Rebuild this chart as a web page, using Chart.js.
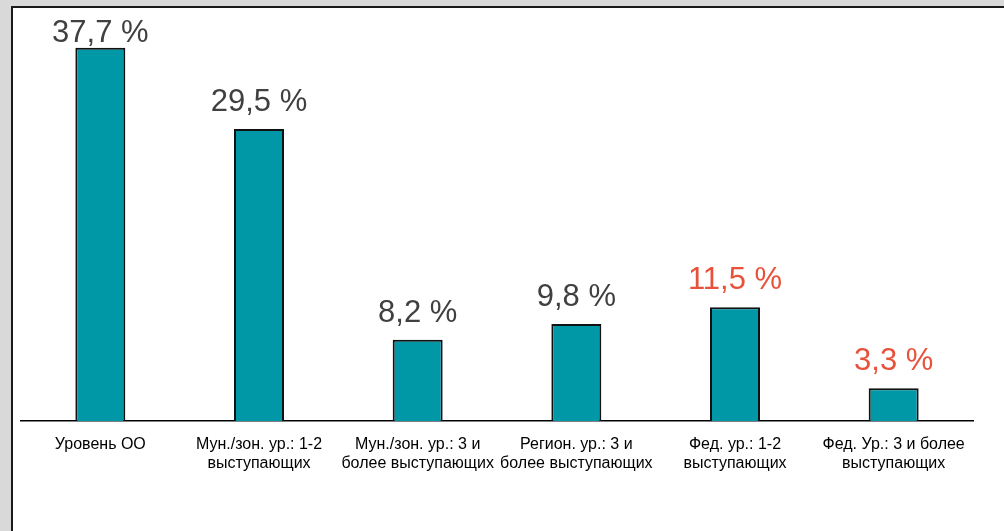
<!DOCTYPE html>
<html>
<head>
<meta charset="utf-8">
<script src="https://cdn.jsdelivr.net/npm/chart.js@4/dist/chart.umd.min.js"></script>
<style>
  html, body { margin: 0; padding: 0; background: #d9d9d9; }
  body { width: 1004px; height: 531px; position: relative; overflow: hidden; }
  .panel {
    position: absolute; left: 11px; top: 6px; width: 1010px; height: 540px;
    background: #fff; border-left: 2px solid #1a1a1a; border-top: 2px solid #1a1a1a;
  }
  #chart { position: absolute; left: 0; top: 0; }
</style>
</head>
<body>
<div class="panel"></div>
<canvas id="chart" width="1004" height="531"></canvas>
<script>
// Доля участников по уровням
const categories = [
  ['Уровень ОО'],
  ['Мун./зон. ур.: 1-2', 'выступающих'],
  ['Мун./зон. ур.: 3 и', 'более выступающих'],
  ['Регион. ур.: 3 и', 'более выступающих'],
  ['Фед. ур.: 1-2', 'выступающих'],
  ['Фед. Ур.: 3 и более', 'выступающих'],
];
const values = [37.7, 29.5, 8.2, 9.8, 11.5, 3.3];
const labelColors = ['#404040', '#404040', '#404040', '#404040', '#e8513a', '#e8513a'];

const fmt = v => v.toFixed(1).replace('.', ',') + ' %';

// value labels above the bars
const valueLabels = {
  id: 'valueLabels',
  afterDatasetsDraw(chart) {
    const ctx = chart.ctx;
    const meta = chart.getDatasetMeta(0);
    ctx.save();
    ctx.font = '31px "Liberation Sans", Arial, sans-serif';
    ctx.textAlign = 'center';
    ctx.textBaseline = 'alphabetic';
    meta.data.forEach((bar, i) => {
      const y = Math.max(bar.y - 18, 42);
      ctx.fillStyle = labelColors[i];
      ctx.fillText(fmt(values[i]), bar.x, y);
    });
    ctx.restore();
  }
};

new Chart(document.getElementById('chart'), {
  type: 'bar',
  data: {
    labels: categories,
    datasets: [{
      data: values,
      backgroundColor: '#0097a7',
      borderColor: '#111',
      borderWidth: 2,
      borderSkipped: 'bottom',
      categoryPercentage: 1,
      barPercentage: 0.315,
    }]
  },
  options: {
    responsive: false,
    animation: false,
    layout: { padding: { left: 21, right: 31, top: 25, bottom: 0 } },
    plugins: { legend: { display: false }, tooltip: { enabled: false } },
    scales: {
      x: {
        grid: { color: 'transparent', drawTicks: false },
        border: { display: true, color: '#000', width: 1.5 },
        ticks: {
          color: '#000',
          padding: 14,
          maxRotation: 0,
          autoSkip: false,
          font: { family: '"Liberation Sans", Arial, sans-serif', size: 16, lineHeight: 1.19 }
        },
        afterFit(scale) { scale.height = 110; }
      },
      y: {
        display: false,
        min: 0,
        max: 40,
      }
    }
  },
  plugins: [valueLabels]
});
</script>
</body>
</html>
